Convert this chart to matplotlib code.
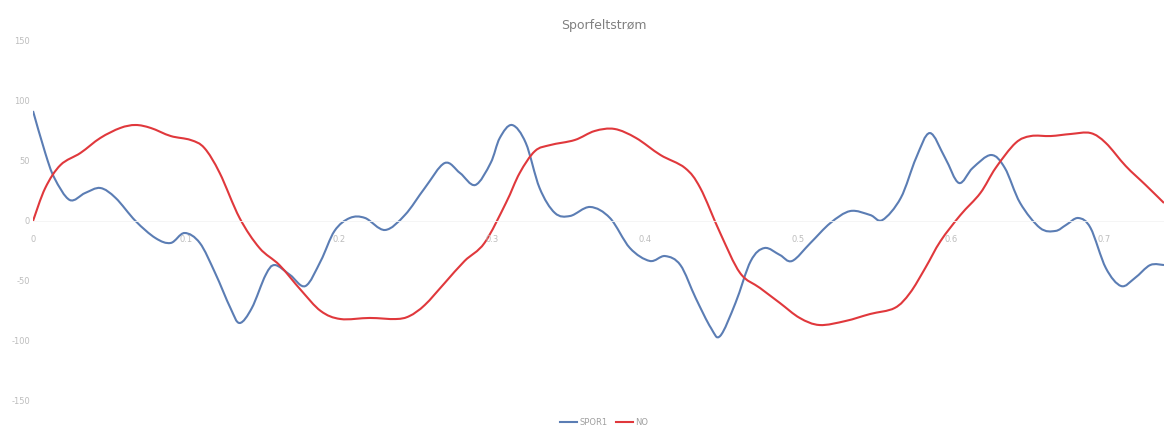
import matplotlib.pyplot as plt
import numpy as np
from matplotlib.path import Path
from matplotlib.patches import PathPatch

# sample positions and field current readings
spor_x = [0, 0.8, 1.4, 2.4, 3.4, 4.4, 5.4, 6.7, 8.0, 9.0, 9.9, 10.9, 11.9, 12.9,
          13.5, 14.3, 15.2, 15.8, 16.8, 17.8, 18.8, 19.7, 20.7, 21.7, 23.0, 24.3,
          25.6, 26.9, 27.9, 28.9, 29.9, 30.5, 31.3, 32.2, 33.1, 34.1, 35.1, 36.4,
          37.7, 39.0, 40.3, 41.3, 42.3, 43.3, 44.3, 44.9, 45.9, 46.9, 47.8, 48.8,
          49.6, 50.8, 52.1, 53.4, 54.7, 55.5, 56.7, 57.7, 58.6, 59.6, 60.5, 61.4,
          62.6, 63.5, 64.5, 65.8, 66.8, 67.5, 68.3, 69.1, 70.1, 71.1, 72.0, 73.0, 73.9]
spor = [91.7, 56.7, 35.8, 17.5, 23.3, 27.5, 19.2, 0, -14.2, -18.3, -10, -18.3, -43.3,
        -72.5, -85, -72.5, -45, -36.7, -45, -54.2, -33.3, -8.3, 2.5, 2.5, -7.5, 5,
        27.5, 48.3, 40, 30, 48.3, 69.2, 80, 65, 27.5, 6.7, 4.2, 11.7, 2.5, -22.5,
        -33.3, -29.2, -36.7, -64.2, -89.2, -95.8, -68.3, -33.3, -22.5, -28.3, -33.3,
        -18.3, -1.7, 8.3, 5, 0.8, 19.2, 52.5, 73.3, 52.5, 31.7, 44.2, 55, 44.2, 15,
        -5.8, -8.3, -3.3, 2.5, -5.8, -39.2, -54.2, -47.5, -36.7, -36.7]

no_x = [0, 0.8, 1.8, 3.1, 4.4, 5.7, 6.7, 7.7, 9.0, 10.3, 11.2, 12.2, 13.5, 14.8,
        16.1, 17.5, 18.8, 20.1, 22.0, 23.7, 24.6, 25.6, 26.9, 28.2, 29.5, 30.9,
        31.8, 32.8, 33.8, 35.4, 36.7, 38.0, 39.4, 41.0, 42.6, 43.6, 44.9, 46.2,
        47.5, 48.8, 50.1, 51.4, 53.1, 54.7, 56.3, 57.3, 58.3, 59.3, 60.6, 61.9,
        62.9, 64.2, 65.2, 66.5, 67.8, 69.1, 70.1, 71.4, 72.7, 73.9]
no = [0, 27.5, 46.7, 56.7, 69.2, 77.5, 80, 77.5, 70.8, 67.5, 60.8, 40, 2.5, -22.5,
      -36.7, -57.5, -75, -81.7, -80.8, -81.7, -79.2, -70, -51.7, -33.3, -18.3, 15,
      40, 58.3, 63.3, 67.5, 75, 76.7, 69.2, 55, 44.2, 27.5, -10, -43.3, -55.8,
      -68.3, -80.8, -86.7, -83.3, -77.5, -72.5, -60, -39.2, -16.7, 5, 23.3, 44.2,
      65, 70.8, 70.8, 72.5, 73.3, 65, 45.8, 30, 15]

x_ticks = [0, 10, 20, 30, 40, 50, 60, 70]
x_tick_labels = ["0", "0.1", "0.2", "0.3", "0.4", "0.5", "0.6", "0.7"]
y_ticks = [-150, -100, -50, 0, 50, 100, 150]

BLUE = "#5b7db4"
RED = "#e0383c"
TEXT = "#bdbdbd"


def smooth_path(xs, ys):
    """Catmull-Rom spline through the points, as cubic bezier segments."""
    p = np.column_stack([xs, ys]).astype(float)
    verts = [p[0]]
    codes = [Path.MOVETO]
    n = len(p)
    for i in range(n - 1):
        p0 = p[i - 1] if i > 0 else p[i]
        p3 = p[i + 2] if i + 2 < n else p[i + 1]
        c1 = p[i] + (p[i + 1] - p0) / 6
        c2 = p[i + 1] - (p3 - p[i]) / 6
        verts += [c1, c2, p[i + 1]]
        codes += [Path.CURVE4] * 3
    return Path(verts, codes)


fig = plt.figure(figsize=(11.64, 4.28), dpi=100)
ax = fig.add_axes([33 / 1164, 27 / 428, 1 - 33 / 1164, 360 / 428])

for xs, ys, color, name in [(spor_x, spor, BLUE, "SPOR1"), (no_x, no, RED, "NO")]:
    ax.add_patch(PathPatch(smooth_path(xs, ys), facecolor="none",
                           edgecolor=color, lw=1.5))
    ax.plot([], [], color=color, lw=1.5, label=name)

ax.set_xlim(0, 73.9)
ax.set_ylim(-150, 150)

for s in ["top", "right", "left"]:
    ax.spines[s].set_visible(False)
ax.spines["bottom"].set_position(("data", 0))
ax.spines["bottom"].set_color("#f4f4f4")
ax.spines["bottom"].set_linewidth(0.6)

ax.set_xticks(x_ticks)
ax.set_xticklabels(x_tick_labels, fontsize=6, color=TEXT)
ax.tick_params(axis="x", length=0, pad=10)
ax.set_yticks(y_ticks)
ax.set_yticklabels([str(v) for v in y_ticks], fontsize=6, color=TEXT)
ax.tick_params(axis="y", length=0, pad=2)

fig.text(0.519, 0.94, "Sporfeltstrøm", ha="center", va="center",
         fontsize=9, color="#808080")
fig.legend(loc="lower center", bbox_to_anchor=(0.519, -0.015), ncol=2,
           frameon=False, fontsize=6, labelcolor="#a0a0a0",
           handlelength=2, columnspacing=1.0, handletextpad=0.3)

fig.savefig("out.png", dpi=100)
